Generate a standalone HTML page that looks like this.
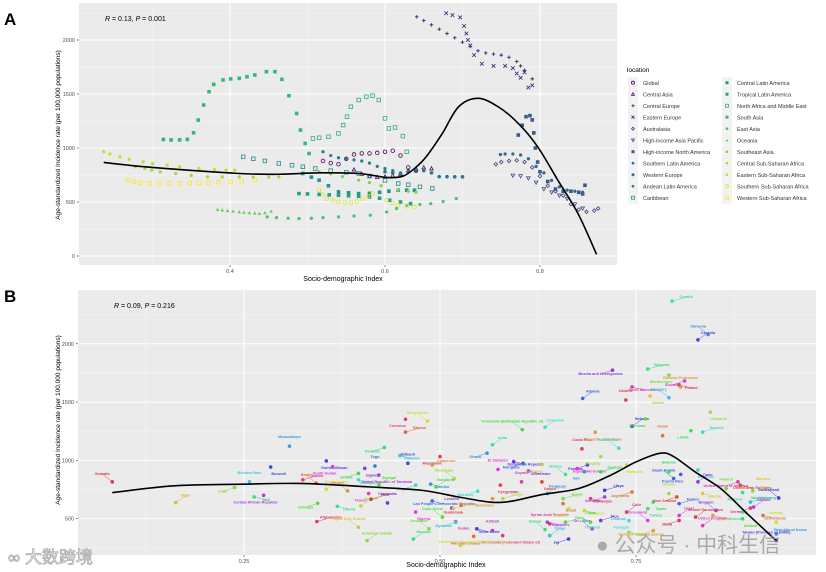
<!DOCTYPE html>
<html><head><meta charset="utf-8">
<style>
html,body{margin:0;padding:0;background:#fff;}
svg{display:block;font-family:"Liberation Sans",sans-serif;}
</style></head>
<body>
<svg id="root" width="826" height="572" viewBox="0 0 826 572">
<text x="4" y="25" font-size="17" font-weight="bold" fill="#000">A</text>
<text x="4" y="302" font-size="17" font-weight="bold" fill="#000">B</text>
<g id="pa"></g>
<g id="pb"></g>
<g id="leg"></g>
<text x="8" y="563" font-size="17" fill="#fff" stroke="#aaa" stroke-width="0.8" font-family="'Liberation Sans','Noto Sans CJK SC',sans-serif">∞ 大数跨境</text>
<text x="596" y="552" font-size="21" fill="#999" opacity="0.8" font-family="'Liberation Sans','Noto Sans CJK SC',sans-serif">● 公众号 · 中科生信</text>
</svg>
<script>
// ---------- Panel A data ----------
const regionNames = ["Global","Central Asia","Central Europe","Eastern Europe","Australasia","High-income Asia Pacific","High-income North America","Southern Latin America","Western Europe","Andean Latin America","Caribbean","Central Latin America","Tropical Latin America","North Africa and Middle East","South Asia","East Asia","Oceania","Southeast Asia","Central Sub-Saharan Africa","Eastern Sub-Saharan Africa","Southern Sub-Saharan Africa","Western Sub-Saharan Africa"];
const sdiGlobal=[0.52,0.53,0.54,0.55,0.56,0.57,0.58,0.59,0.60,0.61,0.62,0.63,0.64];
const valGlobal=[880,860,850,900,940,950,950,955,965,975,930,820,790];
const sdiCAsia=[0.56,0.57,0.58,0.59,0.60,0.61,0.62,0.63,0.64,0.65,0.66];
const valCAsia=[800,760,740,730,735,745,760,790,810,820,810];
const sdiCEur=[0.641,0.65,0.66,0.67,0.68,0.69,0.70,0.71,0.72,0.73,0.74,0.75,0.76,0.77,0.775,0.78,0.79];
const valCEur=[2215,2180,2140,2100,2060,2020,1980,1940,1900,1880,1870,1860,1840,1800,1760,1720,1640];
const sdiEEur=[0.679,0.687,0.697,0.702,0.705,0.707,0.71,0.715,0.725,0.74,0.755,0.765,0.77,0.775,0.78,0.785,0.79];
const valEEur=[2248,2230,2210,2130,2060,2000,1950,1860,1780,1760,1760,1740,1690,1650,1700,1560,1580];
const sdiAus=[0.743,0.75,0.76,0.77,0.78,0.79,0.80,0.81,0.82,0.83,0.84,0.85,0.86,0.87,0.875];
const valAus=[850,870,880,885,870,820,740,650,600,560,480,430,410,420,440];
const sdiHIAP=[0.765,0.775,0.785,0.795,0.805,0.815,0.825,0.835,0.845,0.855];
const valHIAP=[745,740,720,680,620,590,560,530,480,440];
const sdiHINA=[0.772,0.777,0.782,0.787,0.790,0.792,0.794,0.797,0.80,0.81,0.82,0.83,0.84,0.85,0.855,0.858];
const valHINA=[1120,1210,1290,1300,1260,1140,1000,870,780,690,620,600,600,590,575,655];
const sdiSLA=[0.749,0.755,0.765,0.775,0.785,0.795,0.805,0.815,0.825,0.835,0.845,0.855];
const valSLA=[940,945,945,935,900,830,770,700,640,610,600,590];
const sdiWEur=[0.60,0.61,0.62,0.63,0.64,0.65,0.66,0.67,0.68,0.69,0.70];
const valWEur=[780,770,765,780,795,790,770,735,735,733,733];
const sdiALA=[0.52,0.53,0.54,0.55,0.56,0.57,0.58,0.59,0.60,0.61,0.62];
const valALA=[965,930,910,900,890,880,860,830,810,790,770];
const sdiCarib=[0.417,0.43,0.445,0.463,0.48,0.494,0.51,0.53,0.55,0.566,0.58,0.6,0.617,0.63,0.645,0.661];
const valCarib=[918,900,880,857,840,826,810,790,775,764,740,700,671,660,640,625];
const sdiCLA=[0.494,0.505,0.515,0.527,0.54,0.553,0.566,0.58,0.593,0.605,0.617,0.628,0.638];
const valCLA=[764,730,702,650,594,585,578,580,590,600,609,610,609];
const sdiTLA=[0.489,0.5,0.515,0.528,0.54,0.553,0.566,0.58,0.593,0.606,0.62,0.633];
const valTLA=[578,575,570,566,563,558,553,547,535,516,500,485];
const sdiNAME=[0.507,0.515,0.527,0.54,0.546,0.551,0.556,0.566,0.576,0.584,0.592,0.6,0.605,0.613,0.623,0.628];
const valNAME=[1088,1095,1104,1135,1212,1290,1382,1444,1475,1484,1444,1274,1181,1190,1110,965];
const sdiSAsia=[0.314,0.324,0.335,0.345,0.353,0.359,0.366,0.373,0.379,0.391,0.401,0.412,0.422,0.432,0.447,0.458,0.467,0.476,0.486,0.491,0.497,0.502];
const valSAsia=[1079,1075,1075,1080,1141,1259,1398,1521,1589,1630,1640,1645,1660,1676,1707,1707,1636,1484,1320,1166,1042,949];
const sdiEAsia=[0.448,0.46,0.475,0.489,0.505,0.52,0.54,0.56,0.581,0.602,0.615,0.628,0.645,0.659,0.675,0.692];
const valEAsia=[362,355,350,346,350,355,362,370,377,408,440,470,478,485,505,532];
const sdiOce=[0.384,0.39,0.397,0.404,0.412,0.418,0.425,0.432,0.438,0.445,0.453];
const valOce=[430,425,420,415,408,404,400,397,393,400,414];
const sdiSEAsia=[0.515,0.53,0.545,0.566,0.58,0.595,0.617,0.63,0.64];
const valSEAsia=[779,760,735,702,680,650,609,600,590];
const sdiCSSA=[0.278,0.29,0.299,0.31,0.33,0.35,0.371,0.39,0.412,0.43,0.45,0.463];
const valCSSA=[826,810,795,780,764,745,733,733,733,730,730,733];
const sdiESSA=[0.237,0.245,0.258,0.27,0.288,0.3,0.319,0.335,0.36,0.38,0.395,0.406];
const valESSA=[965,945,918,895,872,855,841,825,810,800,795,795];
const sdiSSSA=[0.515,0.52,0.525,0.533,0.54,0.548,0.556,0.564,0.571,0.578,0.584,0.602,0.61,0.617,0.628,0.638];
const valSSSA=[609,570,532,515,500,495,492,505,532,555,578,516,490,470,460,455];
const sdiWSSA=[0.268,0.276,0.284,0.296,0.309,0.322,0.335,0.348,0.36,0.372,0.385,0.401,0.415,0.432];
const valWSSA=[702,690,677,672,671,672,672,675,677,680,683,686,694,702];
const seriesA=[[sdiGlobal,valGlobal],[sdiCAsia,valCAsia],[sdiCEur,valCEur],[sdiEEur,valEEur],[sdiAus,valAus],[sdiHIAP,valHIAP],[sdiHINA,valHINA],[sdiSLA,valSLA],[sdiWEur,valWEur],[sdiALA,valALA],[sdiCarib,valCarib],[sdiCLA,valCLA],[sdiTLA,valTLA],[sdiNAME,valNAME],[sdiSAsia,valSAsia],[sdiEAsia,valEAsia],[sdiOce,valOce],[sdiSEAsia,valSEAsia],[sdiCSSA,valCSSA],[sdiESSA,valESSA],[sdiSSSA,valSSSA],[sdiWSSA,valWSSA]];
const shapesA=["circle-open","tri-open","plus","cross","diamond-open","tridown-open","square","star","circleplus","circle","squarex","square","square","square-open","square","circle","tri","circle","circle","circle","circle-open","square-open"];
const smoothASdi=[0.237,0.30,0.412,0.463,0.515,0.566,0.602,0.623,0.638,0.653,0.674,0.695,0.72,0.746,0.772,0.797,0.823,0.849,0.873];
const smoothAVal=[866,820,764,757,770,764,727,739,810,918,1135,1382,1460,1382,1228,1011,702,393,15];
const ticksAX=[0.4,0.6,0.8];
const ticksAY=[0,500,1000,1500,2000];

// ---------- Panel B data ----------
const countries=["Somalia","Niger","Chad","Mali","Burkina Faso","Burundi","Central African Republic","Guinea","Benin","Sierra Leone","Ethiopia","Liberia","Mozambique","Guinea-Bissau","South Sudan","Afghanistan","Malawi","Gambia","Eritrea","Madagascar","Togo","Uganda","Yemen","Haiti","Papua New Guinea","Solomon Islands","Rwanda","Pakistan","Djibouti","United Republic of Tanzania","Comoros","Bhutan","Bangladesh","Senegal","Angola","Zambia","Cambodia","Nigeria","Mauritania","Cameroon","Nicaragua","Honduras","Morocco","Lao People's Democratic Republic","Lesotho","Sudan","Guatemala","Tajikistan","Zimbabwe","Vanuatu","Myanmar","Timor-Leste","Kiribati","Micronesia (Federated States of)","Marshall Islands","Democratic People's Republic of Korea","Cabo Verde","India","Ghana","Dominican Republic","El Salvador","Kyrgyzstan","Botswana","Congo","Venezuela (Bolivarian Republic of)","Colombia","Mongolia","Uzbekistan","Guyana","Gabon","Suriname","Egypt","Samoa","Tonga","Fiji","Philippines","Syrian Arab Republic","Brazil","Ecuador","Peru","Mexico","Paraguay","Panama","Equatorial Guinea","Costa Rica","Republic of Moldova","Uruguay","Georgia","Kazakhstan","Albania","Bosnia and Herzegovina","North Macedonia","Ukraine","Serbia","Montenegro","Bulgaria","Hungary","Belarus","Armenia","Azerbaijan","Oman","Malaysia","Romania","Croatia","Slovenia","Czechia","Slovakia","Poland","Russian Federation","Lithuania","Latvia","Estonia","Saudi Arabia","Qatar","United States of America","United Arab Emirates","Monaco","San Marino","Andorra","Luxembourg","Switzerland","Canada","Germany","Netherlands","Norway","Iceland","Ireland","Republic of Korea","Taiwan (Province of China)","Israel","Malta","Cyprus","Greece","Spain","Portugal","France","Belgium","United Kingdom","New Zealand","Austria","Finland","Turkey","Lebanon","Libya","Sri Lanka","Chile","Argentina","Jamaica","China","Thailand","Iran","Niue","Greenland","Brunei Darussalam","Northern Mariana Islands","Palau","Bahrain","Bermuda","Puerto Rico"];
const sdiB=[0.082,0.163,0.238,0.263,0.257,0.284,0.275,0.325,0.342,0.355,0.344,0.369,0.308,0.355,0.363,0.343,0.382,0.399,0.396,0.396,0.417,0.404,0.409,0.412,0.396,0.407,0.429,0.449,0.459,0.422,0.456,0.456,0.484,0.422,0.469,0.488,0.433,0.469,0.5,0.49,0.518,0.495,0.548,0.49,0.515,0.52,0.527,0.517,0.486,0.466,0.52,0.547,0.567,0.58,0.543,0.526,0.503,0.567,0.56,0.594,0.574,0.577,0.567,0.58,0.605,0.634,0.606,0.613,0.604,0.63,0.63,0.657,0.634,0.64,0.664,0.637,0.64,0.657,0.664,0.66,0.66,0.637,0.688,0.675,0.681,0.698,0.705,0.705,0.728,0.682,0.72,0.745,0.737,0.768,0.792,0.765,0.792,0.745,0.71,0.692,0.784,0.738,0.762,0.796,0.842,0.829,0.812,0.805,0.807,0.845,0.82,0.835,0.798,0.829,0.88,0.883,0.912,0.899,0.886,0.896,0.932,0.9,0.896,0.912,0.929,0.886,0.886,0.929,0.929,0.805,0.805,0.848,0.792,0.772,0.741,0.805,0.852,0.835,0.802,0.835,0.865,0.765,0.738,0.71,0.694,0.738,0.745,0.684,0.692,0.684,0.684,0.705,0.765,0.826,0.772,0.741,0.792,0.829,0.807];
const valB=[816,638,767,687,816,943,701,834,805,753,632,606,1122,995,946,476,739,609,889,834,952,932,716,667,427,312,1111,1041,975,874,1353,1243,1336,788,788,796,635,557,1033,961,845,773,736,652,591,476,614,586,413,326,470,413,398,355,349,268,514,1134,1062,990,923,788,672,672,1264,1284,975,909,816,816,966,672,407,355,326,470,456,629,586,470,880,716,961,930,1099,1241,1033,903,1105,1532,1774,1630,1518,1552,1731,1783,1538,1293,687,672,1212,961,1356,2366,2080,2034,1682,1647,1630,1414,1255,1243,845,816,816,788,765,739,724,643,678,600,591,528,470,499,557,369,312,528,485,528,716,643,485,629,571,441,687,716,759,586,557,744,413,557,730,571,470,485,903,485,485,514,398,384,903,918,880];
const smoothBSdi=[0.082,0.161,0.248,0.322,0.409,0.476,0.523,0.563,0.59,0.63,0.677,0.718,0.751,0.781,0.798,0.825,0.858,0.892,0.929];
const smoothBVal=[724,782,796,802,773,744,687,643,649,707,759,874,990,1062,1033,903,759,542,312];
const ticksBX=[0.25,0.5,0.75];
const ticksBY=[500,1000,1500,2000];

// ---------- helpers ----------
const NS="http://www.w3.org/2000/svg";
function mk(parent,tag,attrs){const e=document.createElementNS(NS,tag);for(const k in attrs)e.setAttribute(k,attrs[k]);parent.appendChild(e);return e;}
const vstops=["#440154","#482878","#3e4989","#31688e","#26828e","#1f9e89","#35b779","#6ece58","#b5de2b","#fde725"];
function hex(h){return [1,3,5].map(i=>parseInt(h.substr(i,2),16));}
function viridis(t){const p=t*(vstops.length-1);const i=Math.min(Math.floor(p),vstops.length-2);const f=p-i;const a=hex(vstops[i]),b=hex(vstops[i+1]);return "rgb("+a.map((v,k)=>Math.round(v+(b[k]-v)*f)).join(",")+")";}
function smoothPath(pts){let d="M"+pts[0][0]+","+pts[0][1];for(let i=0;i<pts.length-1;i++){const p0=pts[Math.max(0,i-1)],p1=pts[i],p2=pts[i+1],p3=pts[Math.min(pts.length-1,i+2)];const c1=[p1[0]+(p2[0]-p0[0])/6,p1[1]+(p2[1]-p0[1])/6],c2=[p2[0]-(p3[0]-p1[0])/6,p2[1]-(p3[1]-p1[1])/6];d+=" C"+c1.join(",")+" "+c2.join(",")+" "+p2.join(",");}return d;}
function marker(g,shape,x,y,c,r){
  let e;
  if(shape==="circle-open")e=mk(g,"circle",{cx:x,cy:y,r:r,fill:"none",stroke:c,"stroke-width":0.8});
  else if(shape==="circle"||shape==="star")e=mk(g,"circle",{cx:x,cy:y,r:r*0.9,fill:c});
  else if(shape==="circleplus"){e=mk(g,"circle",{cx:x,cy:y,r:r,fill:c});}
  else if(shape==="square")e=mk(g,"rect",{x:x-r,y:y-r,width:2*r,height:2*r,fill:c});
  else if(shape==="square-open"||shape==="squarex")e=mk(g,"rect",{x:x-r,y:y-r,width:2*r,height:2*r,fill:"none",stroke:c,"stroke-width":0.8});
  else if(shape==="tri-open")e=mk(g,"polygon",{points:`${x},${y-r} ${x-r},${y+r*0.8} ${x+r},${y+r*0.8}`,fill:"none",stroke:c,"stroke-width":0.8});
  else if(shape==="tri")e=mk(g,"polygon",{points:`${x},${y-r} ${x-r},${y+r*0.8} ${x+r},${y+r*0.8}`,fill:c});
  else if(shape==="tridown-open")e=mk(g,"polygon",{points:`${x},${y+r} ${x-r},${y-r*0.8} ${x+r},${y-r*0.8}`,fill:"none",stroke:c,"stroke-width":0.8});
  else if(shape==="diamond-open")e=mk(g,"polygon",{points:`${x},${y-r} ${x+r},${y} ${x},${y+r} ${x-r},${y}`,fill:"none",stroke:c,"stroke-width":0.8});
  else if(shape==="plus")e=mk(g,"path",{d:`M${x-r},${y}H${x+r}M${x},${y-r}V${y+r}`,stroke:c,"stroke-width":0.9});
  else if(shape==="cross")e=mk(g,"path",{d:`M${x-r},${y-r}L${x+r},${y+r}M${x-r},${y+r}L${x+r},${y-r}`,stroke:c,"stroke-width":0.9});
  return e;
}
function panel(g,L,T,R,B,xs,ys,xticks,yticks,xfmt,name){
  const bg=mk(g,"rect",{x:L,y:T,width:R-L,height:B-T,fill:"#ebebeb"});
  
  
  for(let i=0;i<yticks.length;i++){const step=yticks[1]-yticks[0];[yticks[i]-step/2,yticks[i]+step/2].forEach(v=>{const y=ys(v);if(y>T&&y<B)mk(g,"line",{x1:L,x2:R,y1:y,y2:y,stroke:"#f5f5f5","stroke-width":0.5});});}
  for(let i=0;i<xticks.length;i++){const step=xticks[1]-xticks[0];[xticks[i]-step/2,xticks[i]+step/2].forEach(v=>{const x=xs(v);if(x>L&&x<R)mk(g,"line",{x1:x,x2:x,y1:T,y2:B,stroke:"#f5f5f5","stroke-width":0.5});});}
  yticks.forEach(v=>{const y=ys(v);mk(g,"line",{x1:L,x2:R,y1:y,y2:y,stroke:"#fff","stroke-width":1});
    mk(g,"line",{x1:L-2,x2:L,y1:y,y2:y,stroke:"#333","stroke-width":0.6});
    const t=mk(g,"text",{x:L-4,y:y+2,"font-size":5.5,"text-anchor":"end",fill:"#4d4d4d"});t.textContent=v;
    
    });
  xticks.forEach(v=>{const x=xs(v);mk(g,"line",{x1:x,x2:x,y1:T,y2:B,stroke:"#fff","stroke-width":1});
    mk(g,"line",{x1:x,x2:x,y1:B,y2:B+2,stroke:"#333","stroke-width":0.6});
    const t=mk(g,"text",{x:x,y:B+8,"font-size":5.5,"text-anchor":"middle",fill:"#4d4d4d"});t.textContent=xfmt(v);
    
    });
}

// ---------- Panel A ----------
(function(){
  const g=document.getElementById("pa");
  const L=79,T=3,R=617,B=265;
  const xs=s=>230+(s-0.4)*775, ys=v=>256-v*0.108;
  panel(g,L,T,R,B,xs,ys,ticksAX,ticksAY,v=>v.toFixed(1),"panel-a");
  seriesA.forEach((s,i)=>{
    const c=viridis(i/(seriesA.length-1));
    const sg=mk(g,"g",{});
    
    
    s[0].forEach((x,j)=>{const m=marker(sg,shapesA[i],xs(x),ys(s[1][j]),c,1.8);
      
      });
  });
  const p=mk(g,"path",{d:smoothPath(smoothASdi.map((s,i)=>[xs(s),ys(smoothAVal[i])])),fill:"none",stroke:"#000","stroke-width":1.6});
  
  
  const r=mk(g,"text",{x:105,y:21,"font-size":7,fill:"#000"});r.innerHTML='<tspan font-style="italic">R</tspan> = 0.13, <tspan font-style="italic">P</tspan> = 0.001';
  
  
  const xt=mk(g,"text",{x:343,y:281,"font-size":7,"text-anchor":"middle",fill:"#000"});xt.textContent="Socio-demographic Index";
  
  
  const yt=mk(g,"text",{x:0,y:0,"font-size":6.5,"text-anchor":"middle",fill:"#000",transform:"translate(60,135) rotate(-90)"});yt.textContent="Age-standardized Incidence rate (per 100,000 populations)";
  
  
})();

// ---------- Legend ----------
(function(){
  const g=document.getElementById("leg");
  const t=mk(g,"text",{x:627,y:72,"font-size":6.5,fill:"#000"});t.textContent="location";
  
  
  regionNames.forEach((n,i)=>{
    const col=i<11?0:1, row=i%11;
    const kx=col?722:628, ky=77+row*11.5;
    const eg=mk(g,"g",{});
    
    
    mk(eg,"rect",{x:kx,y:ky,width:10,height:11.5,fill:"#f2f2f2"});
    marker(eg,shapesA[i],kx+5,ky+5.7,viridis(i/(regionNames.length-1)),1.5);
    const tx=mk(eg,"text",{x:kx+15,y:ky+8,"font-size":5.5,fill:"#333"});tx.textContent=n;
  });
})();

// ---------- Panel B ----------
(function(){
  const g=document.getElementById("pb");
  const L=78,T=290,R=816,B=555;
  const xs=s=>244+(s-0.25)*784, ys=v=>577-v*0.1166;
  panel(g,L,T,R,B,xs,ys,ticksBX,ticksBY,v=>v.toFixed(2),"panel-b");
  const offs=[[-10,-7],[10,-6],[-12,5],[12,4],[0,-8],[8,8],[-8,8],[14,-3]];
  countries.forEach((n,i)=>{
    const c="hsl("+((i*47)%360)+",70%,55%)";
    const x=xs(sdiB[i]),y=ys(valB[i]);
    const cg=mk(g,"g",{});
    
    
    const o=offs[i%offs.length];
    const lx=Math.min(Math.max(x+o[0],L+15),R-15), ly=Math.min(Math.max(y+o[1],T+6),B-2);
    if(Math.abs(o[0])>9)mk(cg,"line",{x1:x,y1:y,x2:lx,y2:ly-1,stroke:c,"stroke-width":0.5});
    mk(cg,"circle",{cx:x,cy:y,r:1.8,fill:c});
    const t=mk(cg,"text",{x:lx,y:ly,"font-size":3.8,"text-anchor":"middle",fill:c,"font-weight":"bold"});t.textContent=n;
  });
  const p=mk(g,"path",{d:smoothPath(smoothBSdi.map((s,i)=>[xs(s),ys(smoothBVal[i])])),fill:"none",stroke:"#000","stroke-width":1.6});
  
  
  const r=mk(g,"text",{x:114,y:308,"font-size":7,fill:"#000"});r.innerHTML='<tspan font-style="italic">R</tspan> = 0.09, <tspan font-style="italic">P</tspan> = 0.216';
  
  
  const xt=mk(g,"text",{x:446,y:567,"font-size":7,"text-anchor":"middle",fill:"#000"});xt.textContent="Socio-demographic Index";
  
  
  const yt=mk(g,"text",{x:0,y:0,"font-size":6.5,"text-anchor":"middle",fill:"#000",transform:"translate(60,420) rotate(-90)"});yt.textContent="Age-standardized Incidence rate (per 100,000 populations)";
  
  
})();
</script>
</body></html>
